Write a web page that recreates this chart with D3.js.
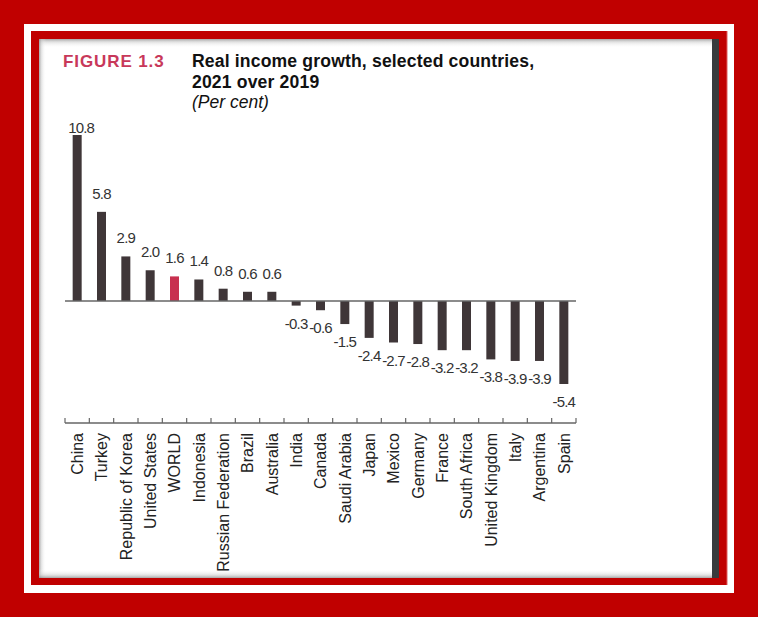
<!DOCTYPE html>
<html><head><meta charset="utf-8">
<script src="https://cdn.jsdelivr.net/npm/d3@7"></script>
<style>html,body{margin:0;padding:0;background:#c00000;}svg{display:block;}</style>
</head><body>
<svg id="c" width="758" height="617"></svg>
<script>
const categories = ["China","Turkey","Republic of Korea","United States","WORLD","Indonesia","Russian Federation","Brazil","Australia","India","Canada","Saudi Arabia","Japan","Mexico","Germany","France","South Africa","United Kingdom","Italy","Argentina","Spain"];
const values = [10.8,5.8,2.9,2.0,1.6,1.4,0.8,0.6,0.6,-0.3,-0.6,-1.5,-2.4,-2.7,-2.8,-3.2,-3.2,-3.8,-3.9,-3.9,-5.4];
const highlight = ["WORLD"];
const titleLines = ["Real income growth, selected countries,","2021 over 2019"];
const figLabel = "FIGURE 1.3";
const unitLabel = "(Per cent)";

const svg = d3.select("#c");
const defs = svg.append("defs");
function grad(id,x1,y1,x2,y2){
  const g = defs.append("linearGradient").attr("id",id).attr("x1",x1).attr("y1",y1).attr("x2",x2).attr("y2",y2);
  g.append("stop").attr("offset","0").attr("stop-color","#8a8a8a").attr("stop-opacity",0.75);
  g.append("stop").attr("offset","0.35").attr("stop-color","#c8c8c8").attr("stop-opacity",0.5);
  g.append("stop").attr("offset","1").attr("stop-color","#ffffff").attr("stop-opacity",0);
}
grad("gTop",0,0,0,1); grad("gLeft",0,0,1,0); grad("gBot",0,1,0,0);

// frame
svg.append("rect").attr("width",758).attr("height",617).attr("fill","#c00000");
svg.append("rect").attr("x",24).attr("y",24).attr("width",710).attr("height",569).attr("fill","#ffffff");
svg.append("rect").attr("x",31).attr("y",31).attr("width",696).attr("height",554).attr("fill","#c00000");
svg.append("rect").attr("x",726.5).attr("y",31).attr("width",1).attr("height",554).attr("fill","#e06060");
svg.append("rect").attr("x",39).attr("y",39).attr("width",680).attr("height",539).attr("fill","#ffffff");
svg.append("rect").attr("x",712).attr("y",39).attr("width",7).attr("height",539).attr("fill","#383b3d");
svg.append("rect").attr("x",39).attr("y",39).attr("width",673).attr("height",9).attr("fill","url(#gTop)");
svg.append("rect").attr("x",39).attr("y",39).attr("width",7).attr("height",539).attr("fill","url(#gLeft)");
svg.append("rect").attr("x",39).attr("y",569).attr("width",673).attr("height",9).attr("fill","url(#gBot)");

// titles
svg.append("text").attr("x",63).attr("y",67).attr("font-family","Liberation Sans, Arial, sans-serif")
  .attr("font-weight","bold").attr("font-size",17).attr("letter-spacing",0.9).attr("fill","#c8385a").text(figLabel);
svg.selectAll("text.tl").data(titleLines).enter().append("text").attr("class","tl")
  .attr("x",192).attr("y",(d,i)=>67+i*21).attr("font-family","Liberation Sans, Arial, sans-serif")
  .attr("font-weight","bold").attr("font-size",17.6).attr("letter-spacing",0.15).attr("fill","#111").text(d=>d);
svg.append("text").attr("x",192).attr("y",107.5).attr("font-family","Liberation Sans, Arial, sans-serif")
  .attr("font-style","italic").attr("font-size",17.5).attr("fill","#111").text(unitLabel);

const data = categories.map((c,i)=>({c, v:values[i]}));
const x = d3.scaleBand().domain(categories).range([65,576]).paddingInner(0.63).paddingOuter(0.315);
const y = d3.scaleLinear().domain([-5.4,10.8]).range([384,135]);
const step = x.step();
const fmt = v => d3.format(".1f")(v).replace("\u2212","-");

const g = svg.append("g");
g.selectAll("rect.bar").data(data).enter().append("rect").attr("class","bar")
  .attr("x",d=>x(d.c)).attr("width",x.bandwidth())
  .attr("y",d=>Math.min(y(d.v),y(0))).attr("height",d=>Math.abs(y(d.v)-y(0)))
  .attr("fill",d=>highlight.includes(d.c)?"#c8304f":"#3f3638");

// zero line
g.append("line").attr("x1",65).attr("x2",576).attr("y1",y(0)).attr("y2",y(0)).attr("stroke","#666").attr("stroke-width",1.3);

// value labels
const labTop = y(d3.max(values)) - 2;
g.selectAll("text.val").data(data).enter().append("text").attr("class","val")
  .attr("x",d=>x(d.c)+x.bandwidth()/2 + (d.v===d3.max(values)?4:0))
  .attr("y",d=>d.v>=0 ? Math.max(y(d.v)-13, labTop) : y(d.v)+23)
  .attr("text-anchor","middle").attr("font-family","Liberation Sans, Arial, sans-serif")
  .attr("font-size",15).attr("letter-spacing",-0.8).attr("fill","#333").text(d=>fmt(d.v));

// bottom category axis
const axisY = 423;
const ax = g.append("g").attr("transform",`translate(0,${axisY})`);
ax.append("line").attr("x1",65).attr("x2",576).attr("y1",0).attr("y2",0).attr("stroke","#666").attr("stroke-width",1.3);
const bounds = categories.map(c=>x(c)-(step-x.bandwidth())/2).concat([576]);
ax.selectAll("line.tk").data(bounds).enter().append("line").attr("class","tk")
  .attr("x1",d=>d).attr("x2",d=>d).attr("y1",-5).attr("y2",0).attr("stroke","#666").attr("stroke-width",1.2);
ax.selectAll("text.cat").data(categories).enter().append("text").attr("class","cat")
  .attr("transform",d=>`translate(${x(d)+x.bandwidth()/2},10) rotate(-90)`)
  .attr("dy","0.36em").attr("text-anchor","end").attr("font-family","Liberation Sans, Arial, sans-serif")
  .attr("font-size",16).attr("fill","#222").text(d=>d);
</script>
</body></html>
